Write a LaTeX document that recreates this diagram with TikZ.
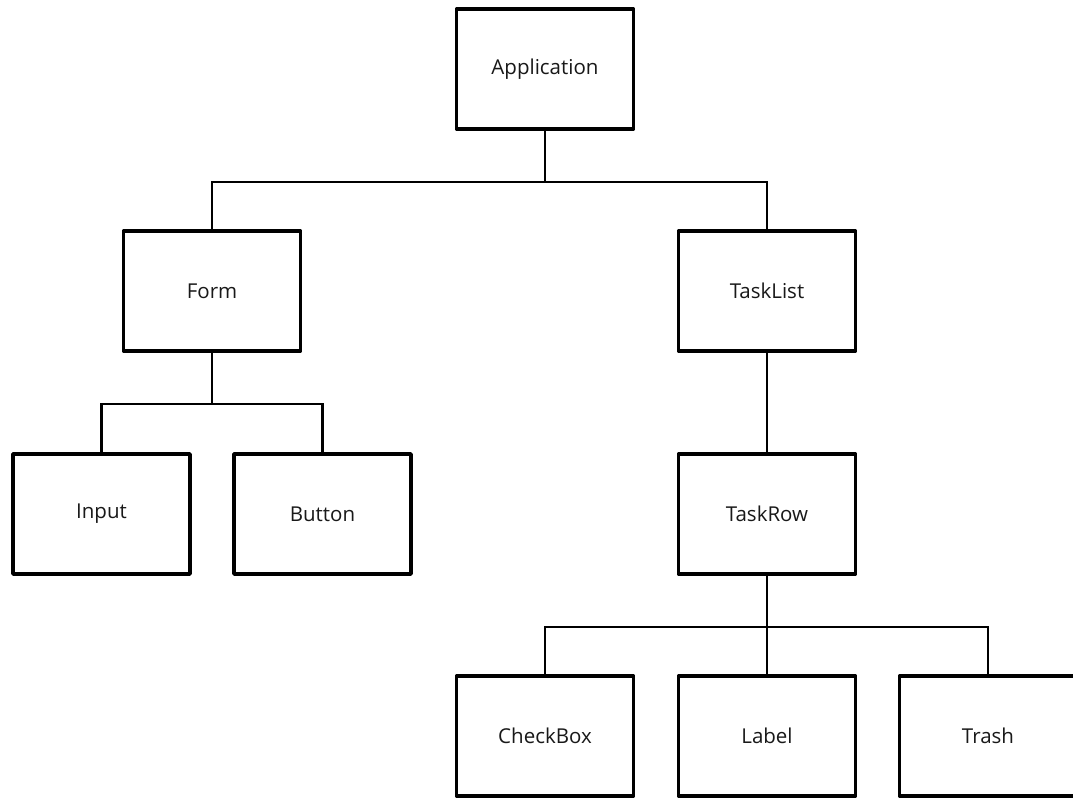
\documentclass[tikz,border=0pt]{standalone}
\usepackage{fontspec}
\setmainfont{Open Sans}
\begin{document}
\begin{tikzpicture}[x=1pt,y=-1pt,
  box/.style={draw=black, line width=3.6pt, fill=white, minimum width=177pt, minimum height=120pt,
    inner sep=0pt, font=\fontsize{20.5}{24}\selectfont, text=black!90, line join=round},
  wire/.style={draw=black, line width=2.8pt, line join=miter}]
\useasboundingbox (0,0) rectangle (1073,801);
\clip (0,0) rectangle (1073,801);
% bus coordinates
\coordinate (bus1) at (0,182);
\coordinate (bus2) at (0,404);
\coordinate (bus3) at (0,627);
% nodes
\node[box] (app) at (545,69) {Application};
\node[box] (form) at (212,291) {Form};
\node[box] (tasklist) at (767,291) {TaskList};
\node[box] (input) at (101.5,514) {Input};
\node[box] (button) at (322.5,514) {Button};
\node[box] (taskrow) at (767,514) {TaskRow};
\node[box] (checkbox) at (545,736) {CheckBox};
\node[box] (label) at (767,736) {Label};
\node[box] (trash) at (988,736) {Trash};
% connectors
\draw[wire] (app.south) -- (app.south |- bus1);
\draw[wire] (form.north) -- (form.north |- bus1) -- (tasklist.north |- bus1) -- (tasklist.north);
\draw[wire] (form.south) -- (form.south |- bus2);
\draw[wire] (input.north) -- (input.north |- bus2) -- (button.north |- bus2) -- (button.north);
\draw[wire] (tasklist.south) -- (taskrow.north);
\draw[wire] (taskrow.south) -- (taskrow.south |- bus3);
\draw[wire] (checkbox.north) -- (checkbox.north |- bus3) -- (trash.north |- bus3) -- (trash.north);
\draw[wire] (label.north) -- (label.north |- bus3);
\end{tikzpicture}
\end{document}
